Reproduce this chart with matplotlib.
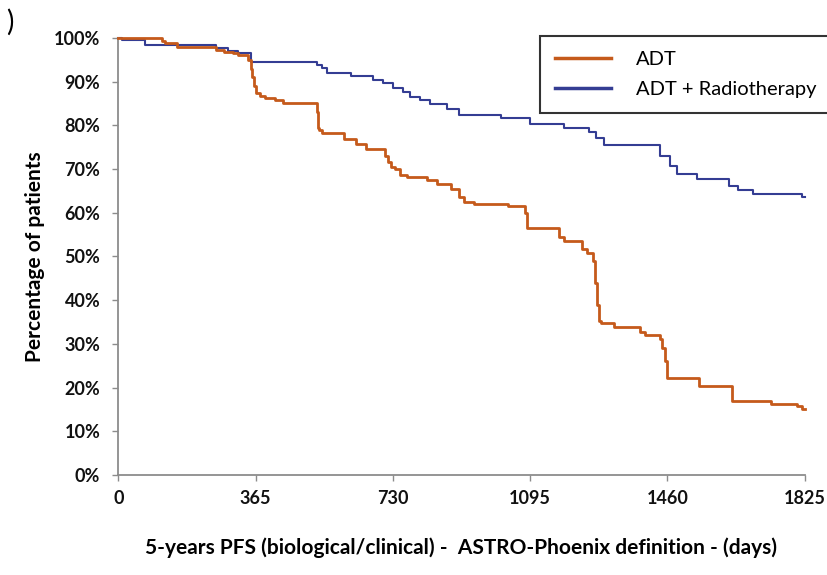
import matplotlib.pyplot as plt
from matplotlib.ticker import PercentFormatter

plt.rcParams['font.family'] = ['Lato', 'DejaVu Sans']

# Kaplan-Meier steps: day of the event and survival after it
adt_days = [0, 115, 124, 156, 261, 280, 306, 319, 345, 352, 356, 360, 365,
            378, 391, 417, 437, 528, 530, 532, 535, 541, 600, 632, 658, 710,
            717, 724, 737, 750, 769, 821, 847, 886, 906, 919, 945, 1036, 1082,
            1088, 1173, 1186, 1232, 1245, 1262, 1267, 1272, 1278, 1284, 1317,
            1388, 1401, 1441, 1447, 1454, 1460, 1545, 1632, 1736, 1805, 1818,
            1825]
adt_surv = [1.0, 0.993, 0.988, 0.980, 0.972, 0.968, 0.965, 0.962, 0.95, 0.93,
            0.91, 0.89, 0.875, 0.868, 0.862, 0.858, 0.852, 0.83, 0.81, 0.795,
            0.79, 0.783, 0.769, 0.757, 0.747, 0.73, 0.715, 0.705, 0.699, 0.687,
            0.682, 0.674, 0.665, 0.654, 0.636, 0.625, 0.621, 0.616, 0.60,
            0.566, 0.545, 0.536, 0.516, 0.509, 0.49, 0.44, 0.39, 0.352, 0.347,
            0.339, 0.328, 0.32, 0.31, 0.29, 0.26, 0.222, 0.203, 0.170, 0.163,
            0.158, 0.152, 0.150]

rt_days = [0, 10, 72, 261, 293, 319, 352, 528, 541, 554, 619, 678, 704, 730,
           756, 776, 802, 828, 873, 906, 1017, 1095, 1186, 1251, 1271, 1291,
           1440, 1467, 1486, 1538, 1623, 1649, 1688, 1818, 1825]
rt_surv = [1.0, 0.995, 0.984, 0.976, 0.970, 0.965, 0.946, 0.937, 0.932, 0.920,
           0.912, 0.903, 0.896, 0.885, 0.877, 0.866, 0.857, 0.848, 0.838,
           0.824, 0.817, 0.804, 0.793, 0.785, 0.771, 0.754, 0.731, 0.706,
           0.688, 0.677, 0.662, 0.653, 0.643, 0.636, 0.636]

x_ticks = [0, 365, 730, 1095, 1460, 1825]

fig = plt.figure(figsize=(8.27, 5.75), dpi=100)
ax = fig.add_axes([0.143, 0.174, 0.830, 0.760])

ax.step(adt_days, adt_surv, where='post', color='#c55a1b', lw=2.0,
        label='ADT', clip_on=False, zorder=3)
ax.step(rt_days, rt_surv, where='post', color='#343d93', lw=1.5,
        label='ADT + Radiotherapy', clip_on=False, zorder=2)

ax.set_xlim(0, 1825)
ax.set_ylim(0, 1.0)
ax.set_xticks(x_ticks)
ax.set_yticks([i / 10 for i in range(11)])
ax.yaxis.set_major_formatter(PercentFormatter(1.0, decimals=0))

for side in ['top', 'right']:
    ax.spines[side].set_visible(False)
for side in ['left', 'bottom']:
    ax.spines[side].set_color('#8c8c8c')
    ax.spines[side].set_linewidth(1.3)

ax.tick_params(axis='both', colors='#8c8c8c', length=4, width=1,
               labelcolor='#111111', labelsize=13)
ax.tick_params(axis='x', pad=7)
ax.tick_params(axis='y', pad=9)
for lbl in ax.get_xticklabels() + ax.get_yticklabels():
    lbl.set_fontweight('bold')

ax.set_xlabel('5-years PFS (biological/clinical) -  ASTRO-Phoenix definition - (days)',
              fontsize=15, fontweight='bold', labelpad=22)
ax.set_ylabel('Percentage of patients', fontsize=15, fontweight='bold',
              labelpad=6)

leg = fig.legend(loc='upper left', bbox_to_anchor=(0.653, 0.937),
                 fontsize=14.5, frameon=True, fancybox=False,
                 handlelength=2.75, handletextpad=1.25, borderpad=0.75,
                 labelspacing=0.6, borderaxespad=0)
leg.get_frame().set_edgecolor('black')
leg.get_frame().set_linewidth(1.5)
for line in leg.get_lines():
    line.set_linewidth(2.5)

# remnant of the panel letter
fig.text(0.008, 0.962, ')', fontsize=20, va='center', ha='left')

fig.savefig('out.png', dpi=100)
